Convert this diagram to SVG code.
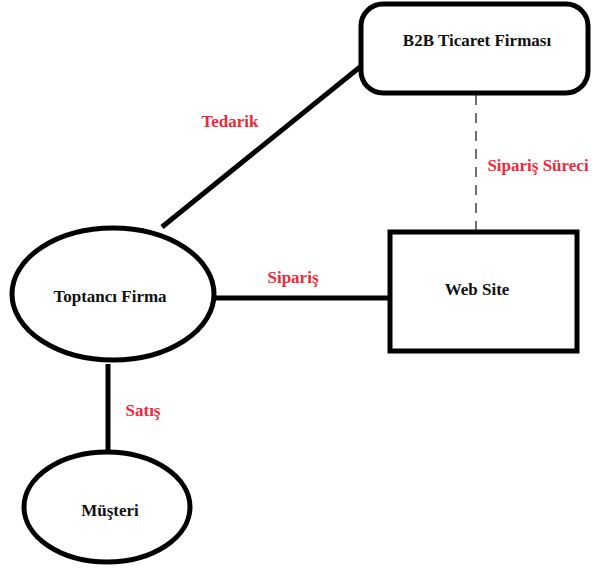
<svg xmlns="http://www.w3.org/2000/svg" width="592" height="570" viewBox="0 0 592 570">
<style>
.n{fill:#fff;stroke:#000;stroke-width:5}
.t{font-family:'Liberation Serif','Times New Roman','DejaVu Serif',serif;font-weight:bold;font-size:17px;fill:#111;text-anchor:middle}
.l{font-family:'Liberation Serif','Times New Roman','DejaVu Serif',serif;font-weight:bold;font-size:17px;fill:#f0283c;text-anchor:middle}
.c{stroke:#000;stroke-width:5;fill:none}
</style>
<rect width="592" height="570" fill="#fff"/>
<g id="connectors">
<line class="c" x1="162" y1="227" x2="360" y2="67"/>
<line class="c" x1="214" y1="298" x2="390" y2="298"/>
<line class="c" x1="108" y1="364" x2="108" y2="452"/>
<line x1="476" y1="95" x2="476" y2="231" stroke="#444" stroke-width="1.5" stroke-dasharray="10,8"/>
<text class="l" x="230" y="127">Tedarik</text>
<text class="l" x="293" y="283">Sipariş</text>
<text class="l" x="143" y="416">Satış</text>
<text class="l" x="538" y="171">Sipariş Süreci</text>
</g>
<g id="b2b">
<rect class="n" x="361" y="4" width="227" height="89" rx="22"/>
<text class="t" x="477" y="46">B2B Ticaret Firması</text>
</g>
<g id="toptanci">
<ellipse class="n" cx="113" cy="294" rx="101" ry="66"/>
<text class="t" x="110" y="302">Toptancı Firma</text>
</g>
<g id="website">
<rect class="n" x="390" y="232" width="187" height="119"/>
<text class="t" x="477" y="295">Web Site</text>
</g>
<g id="musteri">
<ellipse class="n" cx="107" cy="507" rx="83" ry="55"/>
<text class="t" x="110" y="516">Müşteri</text>
</g>
</svg>
